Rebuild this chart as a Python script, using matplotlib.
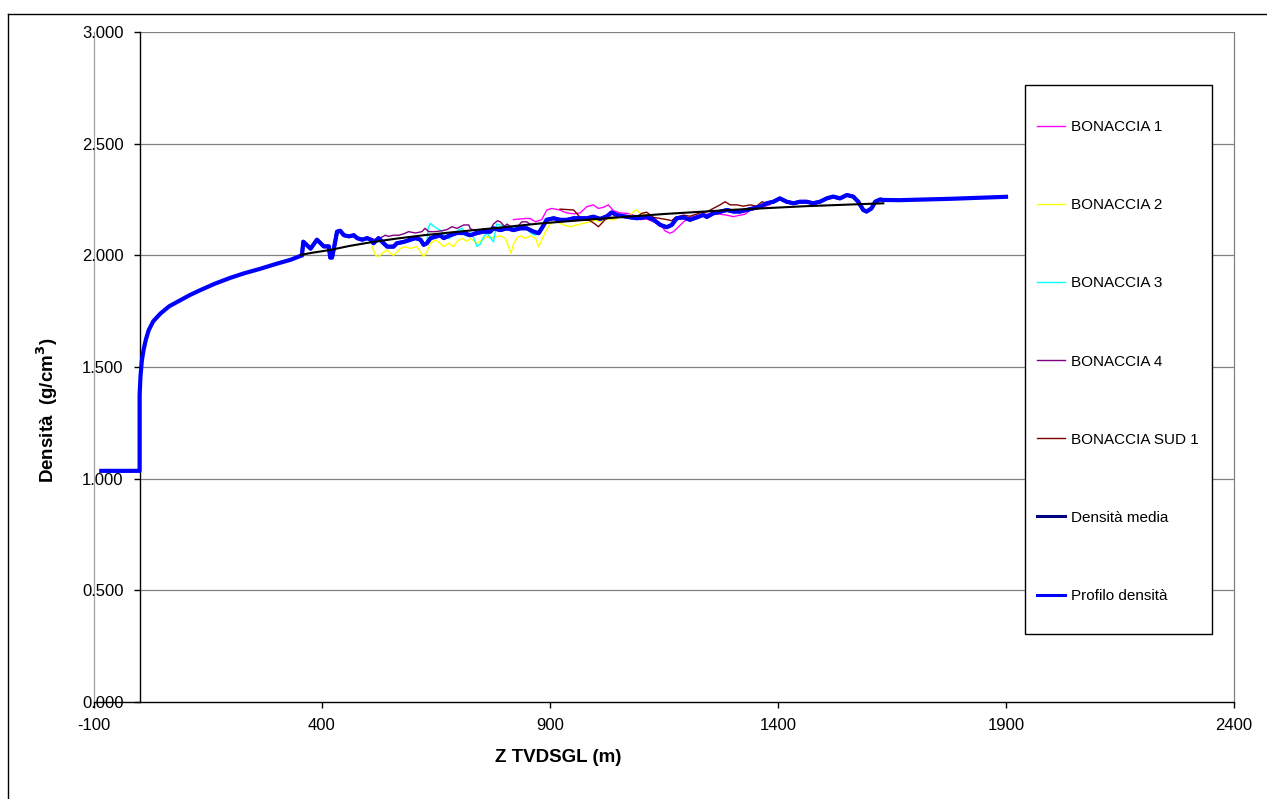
import matplotlib
matplotlib.use("Agg")
import matplotlib.pyplot as plt
from matplotlib.lines import Line2D
from matplotlib.patches import Rectangle

plt.rcParams['font.family'] = ['Liberation Sans', 'DejaVu Sans']

# ---------------- data ----------------
# sea water column and shallow compaction trend (Profilo densità, first part)
water_z = [-84, 0]
water_rho = [1.035, 1.035]
shallow_z = [0, 0, 2, 5, 9, 14, 20, 30, 46, 65, 90, 110, 134, 165, 200, 230, 265, 300, 331, 356]
shallow_rho = [1.035, 1.375, 1.46, 1.53, 1.58, 1.625, 1.665, 1.705, 1.74, 1.772, 1.80,
               1.822, 1.845, 1.873, 1.90, 1.92, 1.94, 1.962, 1.98, 2.00]

# averaged density from the wells (Densità media)
media_z = [356, 359, 375, 389, 404, 415, 418, 422, 426, 433, 440, 448, 459, 470, 477,
           488, 499, 507, 513, 524, 535, 543, 557, 564, 579, 594, 605, 616, 623, 630,
           638, 652, 659, 667, 681, 696, 711, 725, 740, 754, 769, 776, 791, 806, 820,
           835, 849, 864, 875, 882, 893, 908, 922, 937, 952, 966, 981, 995, 1010, 1025,
           1035, 1047, 1061, 1076, 1091, 1105, 1112, 1127, 1142, 1156, 1167, 1178, 1193,
           1207, 1222, 1236, 1244, 1258, 1273, 1288, 1302, 1317, 1331, 1346, 1361, 1375,
           1390, 1404, 1419, 1434, 1448, 1463, 1477, 1492, 1507, 1521, 1536, 1551, 1565,
           1576, 1587, 1594, 1605, 1613, 1624, 1631]
media_rho = [2.00, 2.061, 2.03, 2.07, 2.04, 2.04, 1.99, 1.99, 2.03, 2.106, 2.11, 2.09, 2.085,
             2.09, 2.077, 2.07, 2.077, 2.07, 2.054, 2.077, 2.054, 2.039, 2.039, 2.054, 2.06,
             2.07, 2.077, 2.07, 2.047, 2.054, 2.077, 2.085, 2.09, 2.077, 2.09, 2.10, 2.10,
             2.09, 2.10, 2.106, 2.106, 2.121, 2.113, 2.121, 2.113, 2.121, 2.121, 2.106,
             2.099, 2.121, 2.159, 2.166, 2.159, 2.159, 2.166, 2.166, 2.166, 2.173, 2.163,
             2.175, 2.192, 2.18, 2.175, 2.17, 2.166, 2.17, 2.172, 2.16, 2.136, 2.126, 2.136,
             2.166, 2.17, 2.159, 2.17, 2.181, 2.172, 2.188, 2.195, 2.203, 2.196, 2.196,
             2.203, 2.21, 2.218, 2.233, 2.24, 2.255, 2.24, 2.233, 2.24, 2.24, 2.233, 2.24,
             2.255, 2.263, 2.255, 2.27, 2.263, 2.24, 2.203, 2.196, 2.21, 2.24, 2.25, 2.248]

# deep extrapolation of the profile
deep_z = [1631, 1666, 1722, 1777, 1834, 1889, 1900]
deep_rho = [2.248, 2.247, 2.250, 2.253, 2.257, 2.261, 2.262]

# single wells
b1_z = [820, 846, 857, 868, 882, 893, 904, 922, 930, 937, 952, 966, 981, 995, 1006, 1017,
        1028, 1039, 1054, 1069, 1083, 1098, 1112, 1127, 1142, 1152, 1163, 1171, 1178, 1193,
        1207, 1229, 1258, 1273, 1288, 1302, 1317, 1328, 1339, 1353, 1368, 1382]
b1_rho = [2.16, 2.165, 2.165, 2.15, 2.16, 2.203, 2.21, 2.203, 2.195, 2.19, 2.186, 2.19,
          2.218, 2.226, 2.21, 2.215, 2.226, 2.20, 2.19, 2.188, 2.18, 2.16, 2.163, 2.15, 2.14,
          2.11, 2.099, 2.106, 2.12, 2.15, 2.17, 2.18, 2.188, 2.184, 2.18, 2.173, 2.18, 2.184,
          2.203, 2.21, 2.218, 2.226]

b2_z = [510, 517, 524, 532, 543, 550, 557, 565, 572, 583, 594, 608, 616, 623, 630, 638, 649,
        659, 667, 678, 689, 696, 707, 718, 725, 740, 751, 762, 769, 776, 791, 802, 809, 814,
        820, 828, 835, 846, 857, 868, 875, 882, 890, 901, 915, 930, 944, 959, 973, 988, 999,
        1010, 1025, 1039, 1054, 1069, 1083, 1090, 1098, 1112]
b2_rho = [2.039, 2.002, 1.994, 2.009, 2.024, 2.009, 2.00, 2.016, 2.031, 2.039, 2.031, 2.039,
          2.016, 1.994, 2.016, 2.054, 2.069, 2.054, 2.039, 2.054, 2.039, 2.062, 2.076, 2.062,
          2.076, 2.054, 2.069, 2.084, 2.077, 2.08, 2.087, 2.077, 2.039, 2.009, 2.05, 2.08,
          2.087, 2.077, 2.087, 2.077, 2.039, 2.069, 2.106, 2.143, 2.151, 2.136, 2.128, 2.136,
          2.143, 2.15, 2.158, 2.15, 2.166, 2.158, 2.173, 2.166, 2.196, 2.203, 2.188, 2.181]

b3_z = [630, 633, 638, 645, 652, 659, 667, 678, 689, 700, 707, 718, 725, 733, 740, 747, 755,
        762, 769, 776, 783, 791, 806, 820, 835, 849, 857, 868, 878, 890, 905, 915]
b3_rho = [2.06, 2.125, 2.143, 2.13, 2.121, 2.113, 2.095, 2.075, 2.09, 2.115, 2.121, 2.085,
          2.10, 2.077, 2.04, 2.05, 2.085, 2.10, 2.08, 2.06, 2.14, 2.135, 2.13, 2.125, 2.13,
          2.12, 2.10, 2.09, 2.12, 2.165, 2.17, 2.165]

b4_z = [510, 517, 528, 539, 546, 557, 568, 579, 590, 605, 619, 626, 634, 648, 663, 674, 685,
        696, 711, 722, 725, 740, 755, 769, 776, 785, 791, 800, 806, 815, 822, 830, 838, 849,
        856]
b4_rho = [2.075, 2.07, 2.078, 2.09, 2.085, 2.09, 2.09, 2.096, 2.106, 2.10, 2.106, 2.121,
          2.106, 2.106, 2.11, 2.115, 2.128, 2.121, 2.136, 2.136, 2.12, 2.105, 2.12, 2.115,
          2.14, 2.155, 2.15, 2.13, 2.14, 2.125, 2.115, 2.13, 2.15, 2.15, 2.14]

bs1_z = [922, 937, 952, 966, 977, 988, 999, 1006, 1010, 1021, 1032, 1047, 1069, 1090, 1101,
         1112, 1127, 1142, 1156, 1167, 1175, 1193, 1207, 1222, 1229, 1244, 1258, 1273, 1284,
         1295, 1310, 1324, 1339, 1353, 1365, 1375, 1382]
bs1_rho = [2.207, 2.205, 2.203, 2.17, 2.16, 2.155, 2.14, 2.128, 2.136, 2.16, 2.17, 2.17,
           2.175, 2.17, 2.188, 2.193, 2.17, 2.165, 2.16, 2.155, 2.17, 2.18, 2.175, 2.185,
           2.19, 2.195, 2.21, 2.226, 2.24, 2.226, 2.226, 2.22, 2.226, 2.22, 2.24, 2.233, 2.233]

# trend of the averaged density
trend_z = [353, 380, 418, 460, 506, 560, 623, 690, 769, 880, 1010, 1150, 1302, 1460, 1631]
trend_rho = [2.002, 2.012, 2.024, 2.042, 2.058, 2.074, 2.09, 2.104, 2.12, 2.143, 2.164,
             2.185, 2.204, 2.22, 2.233]

x_ticks = [-100, 400, 900, 1400, 1900, 2400]
y_ticks = [0.0, 0.5, 1.0, 1.5, 2.0, 2.5, 3.0]

wells = [
    ("BONACCIA 1", b1_z, b1_rho, "#FF00FF"),
    ("BONACCIA 2", b2_z, b2_rho, "#FFFF00"),
    ("BONACCIA 3", b3_z, b3_rho, "#00FFFF"),
    ("BONACCIA 4", b4_z, b4_rho, "#800080"),
    ("BONACCIA SUD 1", bs1_z, bs1_rho, "#800000"),
]

# ---------------- figure ----------------
W, H = 1267, 799
fig = plt.figure(figsize=(W / 100, H / 100), dpi=100)
fig.patch.set_facecolor("white")

def fx(px):
    return px / W

def fy(py):
    return 1 - py / H

# chart border
fig.add_artist(Line2D([fx(8), fx(8)], [fy(14), 0], color="black", lw=1.0))
fig.add_artist(Line2D([fx(8), 1], [fy(14), fy(14)], color="black", lw=1.0))

ax = fig.add_axes([fx(94), fy(702), (1234 - 94) / W, (702 - 32) / H])
ax.set_xlim(-100, 2400)
ax.set_ylim(0, 3.0)

# grid and plot-area frame
ax.hlines(y_ticks[1:], 0, 2400, color="#808080", lw=0.9, zorder=1)
ax.plot([-100, -100], [0, 3.0], color="#A0A0A0", lw=0.9, zorder=1, clip_on=False)
ax.plot([2400, 2400], [0, 3.0], color="#808080", lw=0.9, zorder=1, clip_on=False)

for name, z, r, c in wells:
    ax.plot(z, r, color=c, lw=1.0, zorder=3)

ax.plot(media_z, media_rho, color="#000080", lw=2.6, zorder=4)

profile_z = water_z + shallow_z[1:] + media_z[1:] + deep_z[1:]
profile_rho = water_rho + shallow_rho[1:] + media_rho[1:] + deep_rho[1:]
ax.plot(profile_z, profile_rho, color="#0000FF", lw=3.0, zorder=5,
        solid_joinstyle="round")

ax.plot(trend_z, trend_rho, color="black", lw=1.5, zorder=6)

# axes
for s in ("top", "right"):
    ax.spines[s].set_visible(False)
ax.spines["left"].set_position(("data", 0))
ax.spines["left"].set_color("black")
ax.spines["bottom"].set_color("black")
ax.spines["left"].set_linewidth(1.0)
ax.spines["bottom"].set_linewidth(1.0)
ax.set_xticks(x_ticks)
ax.set_xticklabels([str(v) for v in x_ticks])
ax.set_yticks(y_ticks)
ax.set_yticklabels([f"{v:.3f}" for v in y_ticks])
ax.tick_params(axis="both", direction="out", length=4, width=1.0, labelsize=12,
               pad=7.5, colors="black")
ax.set_facecolor("white")

fig.text(fx(558), fy(757), "Z TVDSGL (m)", ha="center", va="center",
         fontsize=13.5, fontweight="bold")
fig.text(fx(47), fy(410), r"Densità  (g/cm$^\mathbf{3}$)", ha="center", va="center",
         rotation=90, fontsize=13.5, fontweight="bold")

# legend
fig.add_artist(Rectangle((fx(1025), fy(634)), (1212 - 1025) / W, (634 - 85) / H,
                         transform=fig.transFigure, facecolor="white",
                         edgecolor="black", lw=1.0, zorder=10))
handles = [Line2D([], [], color=c, lw=1.0) for _, _, _, c in wells]
handles.append(Line2D([], [], color="#000080", lw=2.2))
handles.append(Line2D([], [], color="#0000FF", lw=2.2))
labels = [w[0] for w in wells] + ["Densità media", "Profilo densità"]
leg = fig.legend(handles, labels, loc="upper left",
                 bbox_to_anchor=(fx(1037), fy(120)), frameon=False,
                 fontsize=11, borderpad=0, borderaxespad=0, handlelength=1.85,
                 handletextpad=0.4, labelspacing=4.2)
leg.set_zorder(11)

fig.savefig("out.png", dpi=100, facecolor="white")
